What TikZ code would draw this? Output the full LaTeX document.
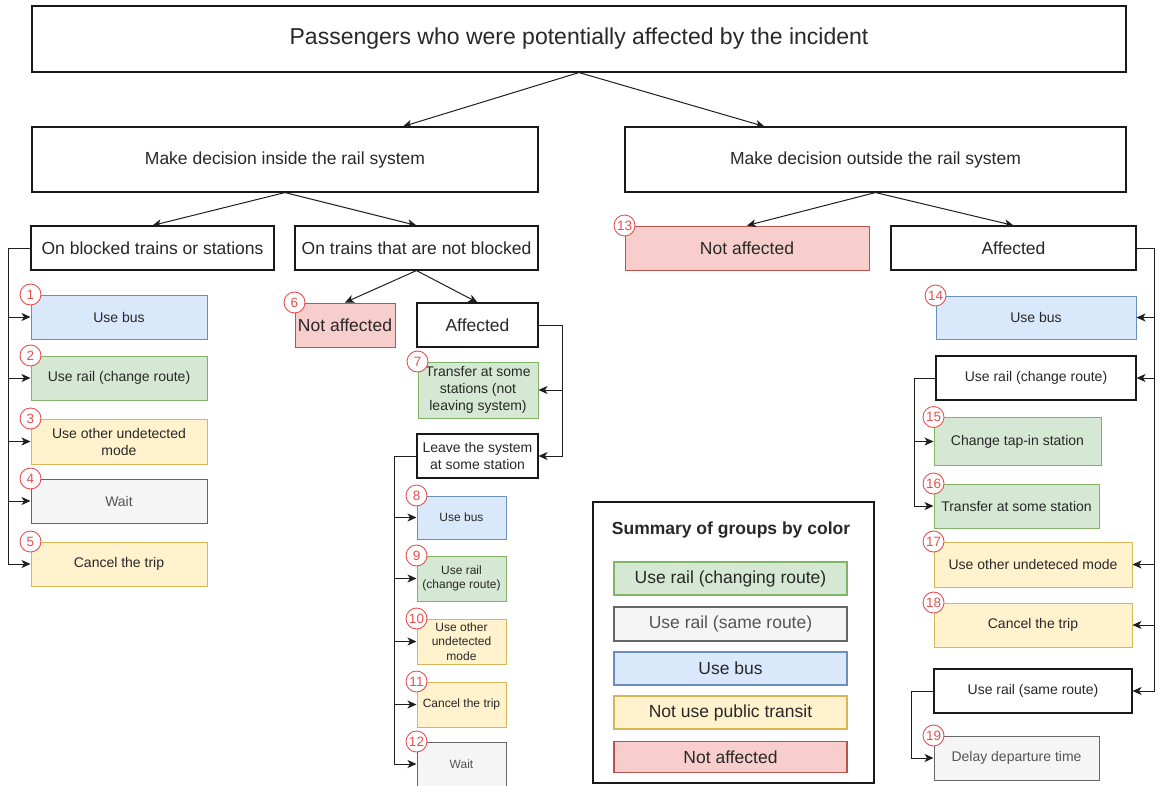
\documentclass[tikz,border=0pt]{standalone}
\usepackage{fontspec}
\setmainfont{Liberation Sans}
\usetikzlibrary{positioning,arrows.meta,calc}
\definecolor{busFill}{HTML}{DAE8FC}
\definecolor{busLine}{HTML}{6C8EBF}
\definecolor{railFill}{HTML}{D5E8D4}
\definecolor{railLine}{HTML}{82B366}
\definecolor{otherFill}{HTML}{FFF2CC}
\definecolor{otherLine}{HTML}{D6B656}
\definecolor{naFill}{HTML}{F8CECC}
\definecolor{naLine}{HTML}{B85450}
\definecolor{sameFill}{HTML}{F5F5F5}
\definecolor{sameLine}{HTML}{666666}
\definecolor{sameText}{HTML}{555555}
\definecolor{badgeRed}{RGB}{232,80,80}
\definecolor{arrowCol}{RGB}{30,30,30}
\definecolor{textCol}{RGB}{40,40,40}
\tikzset{
  box/.style={rectangle,draw=black!90,line width=1.1pt,fill=white,
    align=center,inner sep=2pt,text=textCol},
  lvl/.style={box,font=\fontsize{17.5}{21}\selectfont},
  choice/.style={box,font=\fontsize{14}{17}\selectfont},
  opt/.style={rectangle,line width=1pt,align=center,inner sep=2pt,
    text=textCol,font=\fontsize{14}{17}\selectfont},
  small/.style={font=\fontsize{12}{14.5}\selectfont},
  bus/.style={opt,draw=busLine,fill=busFill},
  rail/.style={opt,draw=railLine,fill=railFill},
  other/.style={opt,draw=otherLine,fill=otherFill},
  same/.style={opt,draw=sameLine,fill=sameFill,text=sameText},
  none/.style={opt,draw=naLine,fill=naFill},
  legend/.style={line width=1.2pt,minimum width=233pt,
    font=\fontsize{17.5}{21}\selectfont},
  badge/.style={circle,draw=badgeRed,fill=white,text=badgeRed,
    line width=0.9pt,minimum size=21pt,inner sep=0pt,
    font=\fontsize{13.5}{13.5}\selectfont},
  arr/.style={-{Stealth[length=9pt,width=8pt,inset=2.5pt]},
    line width=1pt,color=arrowCol},
}
\begin{document}
\begin{tikzpicture}[x=1pt,y=-1pt]
\useasboundingbox (0,0) rectangle (1159,785);

% =====================================================================
%  TOP — all passengers, split inside / outside the rail system
% =====================================================================
\node[box,minimum width=1094pt,minimum height=66pt,
  font=\fontsize{23}{27}\selectfont] (top) at (579,39)
  {Passengers who were potentially affected by the incident};
\node[lvl,minimum width=506pt,minimum height=65pt] (inside) at (285,159.5)
  {Make decision inside the rail system};
\node[lvl,minimum width=501pt,minimum height=65pt] (outside) at (875.5,159.5)
  {Make decision outside the rail system};

\draw[arr] (top.south) -- ([xshift=118pt]inside.north);
\draw[arr] (top.south) -- ([xshift=-111pt]outside.north);

% =====================================================================
%  INSIDE — blocked / not blocked
% =====================================================================
\node[lvl,minimum width=243pt,minimum height=44pt] (blocked) at (152.5,248)
  {On blocked trains or stations};
\node[lvl,minimum width=243pt,minimum height=44pt] (notblk) at (416.5,248)
  {On trains that are not blocked};
\draw[arr] (inside.south) -- (blocked.north);
\draw[arr] (inside.south) -- (notblk.north);

% --- Blocked: options 1-5 ---
\node[bus,minimum width=176pt,minimum height=44pt]   (b1) at (119,317) {Use bus};
\node[rail,minimum width=176pt,minimum height=44pt]  (b2) at (119,378) {Use rail (change route)};
\node[other,minimum width=176pt,minimum height=45pt] (b3) at (119,441.5) {Use other undetected\\mode};
\node[same,minimum width=176pt,minimum height=44pt]  (b4) at (119,501) {Wait};
\node[other,minimum width=176pt,minimum height=44pt] (b5) at (119,564) {Cancel the trip};

\draw[arr] (blocked.west) -- ++(-22,0) |- (b1.west);
\draw[arr] (blocked.west) -- ++(-22,0) |- (b2.west);
\draw[arr] (blocked.west) -- ++(-22,0) |- (b3.west);
\draw[arr] (blocked.west) -- ++(-22,0) |- (b4.west);
\draw[arr] (blocked.west) -- ++(-22,0) |- (b5.west);

% --- Not blocked: not affected / affected ---
\node[none,minimum width=100pt,minimum height=44pt,
  font=\fontsize{17.5}{21}\selectfont] (na6) at (345,325) {Not affected};
\node[lvl,minimum width=121pt,minimum height=44pt] (affM) at (477.5,325) {Affected};
\draw[arr] (notblk.south) -- (na6.north);
\draw[arr] (notblk.south) -- (affM.north);

\node[rail,minimum width=120pt,minimum height=56pt] (m7) at (478,390)
  {Transfer at some\\stations (not\\leaving system)};
\node[choice,minimum width=121pt,minimum height=44pt] (leave) at (477.5,456)
  {Leave the system\\at some station};
\draw[arr] (affM.east) -- ++(24,0) |- (m7.east);
\draw[arr] (affM.east) -- ++(24,0) |- (leave.east);

% --- Leave the system: options 8-12 ---
\node[bus,small,minimum width=89pt,minimum height=43pt]   (m8)  at (461.5,517.5) {Use bus};
\node[rail,small,minimum width=89pt,minimum height=45pt]  (m9)  at (461.5,578.5) {Use rail\\(change route)};
\node[other,small,minimum width=89pt,minimum height=45pt] (m10) at (461.5,641.5) {Use other\\undetected\\mode};
\node[other,small,minimum width=89pt,minimum height=45pt] (m11) at (461.5,704.5) {Cancel the trip};
\node[same,small,minimum width=89pt,minimum height=44pt]  (m12) at (461.5,764)   {Wait};

\draw[arr] (leave.west) -- ++(-22,0) |- (m8.west);
\draw[arr] (leave.west) -- ++(-22,0) |- (m9.west);
\draw[arr] (leave.west) -- ++(-22,0) |- (m10.west);
\draw[arr] (leave.west) -- ++(-22,0) |- (m11.west);
\draw[arr] (leave.west) -- ++(-22,0) |- (m12.west);

% =====================================================================
%  OUTSIDE — not affected / affected
% =====================================================================
\node[none,minimum width=244pt,minimum height=44pt,
  font=\fontsize{17.5}{21}\selectfont] (na13) at (747,248) {Not affected};
\node[lvl,minimum width=245pt,minimum height=44pt] (affR) at (1013.5,248) {Affected};
\draw[arr] (outside.south) -- (na13.north);
\draw[arr] (outside.south) -- (affR.north);

% --- Affected: options 14-19 ---
\node[bus,minimum width=200pt,minimum height=43pt]     (r14)   at (1036,317.5) {Use bus};
\node[choice,minimum width=200pt,minimum height=44pt]  (railC) at (1036,378)   {Use rail (change route)};
\node[rail,minimum width=167pt,minimum height=48pt]    (r15)   at (1017.5,441.5) {Change tap-in station};
\node[rail,minimum width=165pt,minimum height=44pt]    (r16)   at (1016.5,506) {Transfer at some station};
\node[other,minimum width=198pt,minimum height=45pt]   (r17)   at (1033,564.5) {Use other undeteced mode};
\node[other,minimum width=198pt,minimum height=44pt]   (r18)   at (1033,625)   {Cancel the trip};
\node[choice,minimum width=198pt,minimum height=44pt]  (railS) at (1033,691)   {Use rail (same route)};
\node[same,minimum width=165pt,minimum height=44pt]    (r19)   at (1016.5,758) {Delay departure time};

% bus on the right hand side
\draw[arr] (affR.east) -- ++(18,0) |- (r14.east);
\draw[arr] (affR.east) -- ++(18,0) |- (railC.east);
\draw[arr] (affR.east) -- ++(18,0) |- (r17.east);
\draw[arr] (affR.east) -- ++(18,0) |- (r18.east);
\draw[arr] (affR.east) -- ++(18,0) |- (railS.east);

\draw[arr] (railC.west) -- ++(-21,0) |- (r15.west);
\draw[arr] (railC.west) -- ++(-21,0) |- (r16.west);
\draw[arr] (railS.west) -- ++(-22,0) |- (r19.west);

% =====================================================================
%  NUMBER BADGES (top left corner of each group)
% =====================================================================
\foreach \g/\n in {b1/1,b2/2,b3/3,b4/4,b5/5,na6/6,m7/7,m8/8,m9/9,
    m10/10,m11/11,m12/12,na13/13,r14/14,r15/15,r16/16,r17/17,r18/18,r19/19}
  \node[badge] (n\n) at (\g.north west) {\n};

% =====================================================================
%  LEGEND
% =====================================================================
\node[draw=black!90,line width=1.1pt,minimum width=281pt,minimum height=281pt]
  (sumbox) at (733.5,642.5) {};
\node[font=\bfseries\fontsize{17.5}{21}\selectfont,text=textCol] (sumttl)
  at (731,530) {Summary of groups by color};
\node[rail,legend,minimum height=33pt]  (lg1) at (730.5,578.5) {Use rail (changing route)};
\node[same,legend,minimum height=34pt]  (lg2) at (730.5,624)   {Use rail (same route)};
\node[bus,legend,minimum height=33pt]   (lg3) at (730.5,668.5) {Use bus};
\node[other,legend,minimum height=33pt] (lg4) at (730.5,712.5) {Not use public transit};
\node[none,legend,minimum height=31pt]  (lg5) at (730.5,757)   {Not affected};

\end{tikzpicture}
\end{document}
